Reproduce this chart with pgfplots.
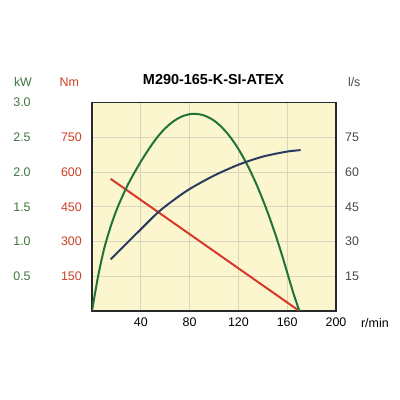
\documentclass[border=0pt]{standalone}
\usepackage{pgfplots}
\pgfplotsset{compat=1.18}
\usepackage{fontspec}
\setmainfont{Liberation Sans}

\definecolor{bgyellow}{RGB}{251,246,206}
\definecolor{gridc}{RGB}{218,213,188}
\definecolor{pgreen}{RGB}{32,116,58}
\definecolor{tgreen}{RGB}{62,118,62}
\definecolor{pred}{RGB}{214,56,44}
\definecolor{tred}{RGB}{206,62,34}
\definecolor{pblue}{RGB}{44,60,96}
\definecolor{tgray}{RGB}{70,72,80}
\definecolor{boxc}{RGB}{40,40,45}

\pgfplotsset{
  base/.style={
    at={(92bp,89bp)}, anchor=south west,
    scale only axis, width=244bp, height=208.3bp,
    xmin=0, xmax=200,
    major tick length=0pt,
    tick style={draw=none},
    ticklabel style={font=\fontsize{12.5}{12.5}\selectfont, inner sep=0pt},
  },
}

\begin{document}
\begin{tikzpicture}[x=1bp,y=1bp]
\useasboundingbox (0,0) rectangle (400,400);

% torque axis (Nm), with grid, frame and speed labels
\begin{axis}[base,
  ymin=0, ymax=900,
  axis background/.style={fill=bgyellow},
  axis line style={draw=boxc, line width=1.4bp},
  grid=major, grid style={draw=gridc, line width=0.9bp},
  xtick={40,80,120,160,200},
  xticklabels={40,80,120,160,200},
  xticklabel style={anchor=north, yshift=-7bp},
  ytick={150,300,450,600,750},
  yticklabels={150,300,450,600,750},
  yticklabel style={anchor=east, xshift=-10bp, text=tred},
]
\addplot[pred, line width=2bp] coordinates {(15.3,571) (170,0)};
\end{axis}

% power axis (kW)
\begin{axis}[base,
  ymin=0, ymax=3,
  axis line style={draw=none},
  hide x axis,
  ytick={0.5,1.0,1.5,2.0,2.5,3.0},
  yticklabels={0.5,1.0,1.5,2.0,2.5,3.0},
  yticklabel style={anchor=center, xshift=-70bp, text=tgreen},
]
\addplot[pgreen, line width=2bp, smooth] coordinates {
  (0,0) (5,0.5) (10,0.9) (15,1.2) (20,1.45) (25,1.655) (30,1.84)
  (35,2.0) (40,2.15) (45,2.29) (50,2.42)
  (55,2.535) (60,2.631) (65,2.709) (70,2.769) (75,2.811) (80,2.834)
  (84.4,2.84) (90,2.826) (95,2.793) (100,2.743) (105,2.67) (110,2.578)
  (115,2.465) (120,2.333) (125,2.18) (130,2.008) (135,1.816) (140,1.603)
  (145,1.372) (150,1.119) (155,0.847) (160,0.554) (165,0.26) (170,0)};
\end{axis}

% flow axis (l/s)
\begin{axis}[base,
  ymin=0, ymax=90,
  axis y line*=right,
  axis line style={draw=none},
  hide x axis,
  ytick={15,30,45,60,75},
  yticklabels={15,30,45,60,75},
  yticklabel style={anchor=west, xshift=9bp, text=tgray},
]
\addplot[pblue, line width=2bp, smooth] coordinates {
  (15.3,22.3) (40,35.3) (54.3,42.7) (66.6,47.8) (80,52.7) (100,58.5)
  (120.5,63.3) (140,66.7) (160,68.9) (171,69.5)};
\end{axis}

% headings
\node[font=\fontsize{12.5}{12.5}\selectfont, text=tgreen] at (23,318) {kW};
\node[font=\fontsize{12.5}{12.5}\selectfont, text=tred, anchor=east] at (82.5,318) {Nm};
\node[font=\fontsize{12.5}{12.5}\selectfont, text=tgray, anchor=west] at (344.5,318) {l/s};
\node[font=\fontsize{12.5}{12.5}\selectfont, anchor=west] at (357.5,77) {r/min};
\node[font=\fontsize{14.5}{14.5}\selectfont\bfseries] at (213.5,320) {M290-165-K-SI-ATEX};
\end{tikzpicture}
\end{document}
